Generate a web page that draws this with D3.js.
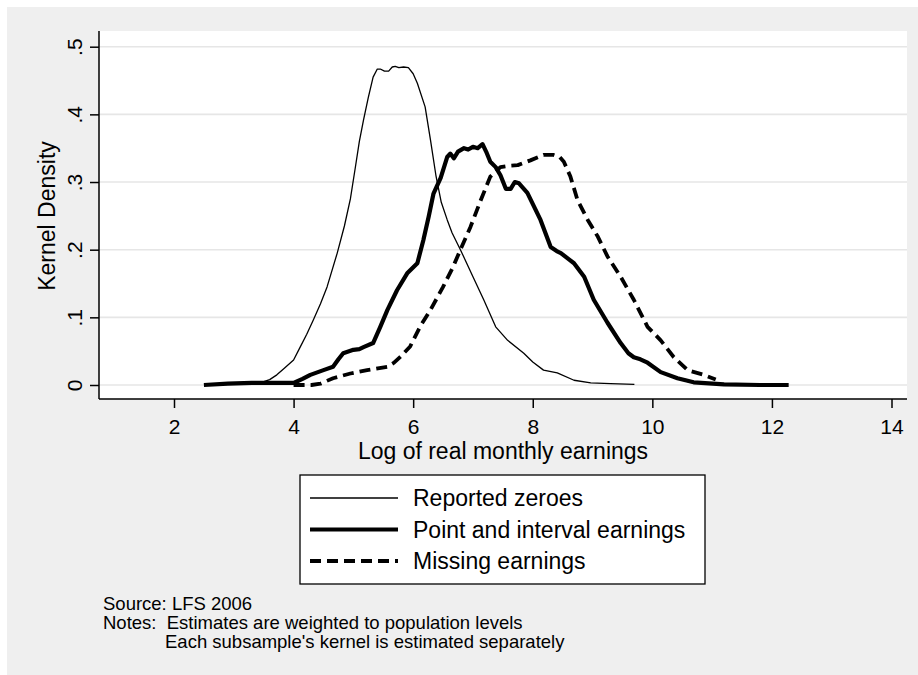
<!DOCTYPE html>
<html>
<head>
<meta charset="utf-8">
<script src="https://cdn.jsdelivr.net/npm/d3@7"></script>
<style>
  body { margin: 0; background: #fff; }
  svg { display: block; font-family: "Liberation Sans", Arial, sans-serif; }
</style>
</head>
<body>
<div id="chart"></div>
<script>
// kernel density estimates: [log earnings, density]
const reportedZeroes = [
  [2.9, 0.002], [3.2, 0.002], [3.44, 0.003], [3.6, 0.008], [3.72, 0.015], [3.85, 0.025], [4.0, 0.037],
  [4.11, 0.056], [4.22, 0.075], [4.33, 0.096], [4.45, 0.12], [4.56, 0.145], [4.73, 0.195],
  [4.85, 0.235], [4.95, 0.275], [5.03, 0.32], [5.1, 0.36], [5.17, 0.392], [5.25, 0.425], [5.33, 0.455],
  [5.4, 0.467], [5.45, 0.467], [5.52, 0.464], [5.59, 0.464], [5.65, 0.47], [5.70, 0.471],
  [5.76, 0.469], [5.84, 0.47], [5.92, 0.469], [6.0, 0.46], [6.07, 0.446], [6.2, 0.411],
  [6.29, 0.362], [6.38, 0.31], [6.47, 0.27], [6.57, 0.244], [6.65, 0.225], [6.79, 0.2],
  [7.0, 0.16], [7.18, 0.126], [7.38, 0.086], [7.58, 0.066], [7.85, 0.047], [8.0, 0.034],
  [8.18, 0.022], [8.41, 0.018], [8.69, 0.007], [8.97, 0.003], [9.3, 0.002], [9.7, 0.001]
];

const pointInterval = [
  [2.5, 0.0], [2.9, 0.002], [3.3, 0.003], [3.7, 0.003], [4.0, 0.003], [4.15, 0.009],
  [4.28, 0.015], [4.5, 0.022], [4.66, 0.027], [4.75, 0.038], [4.83, 0.047], [5.0, 0.052],
  [5.1, 0.053], [5.17, 0.056], [5.33, 0.062], [5.45, 0.086], [5.57, 0.111], [5.73, 0.14],
  [5.9, 0.165], [6.07, 0.18], [6.17, 0.214], [6.26, 0.249], [6.34, 0.283], [6.46, 0.306],
  [6.57, 0.337], [6.62, 0.342], [6.68, 0.335], [6.75, 0.345], [6.85, 0.35], [6.92, 0.348],
  [7.0, 0.352], [7.08, 0.35], [7.16, 0.356], [7.22, 0.345], [7.29, 0.33], [7.38, 0.322],
  [7.46, 0.31], [7.55, 0.29], [7.63, 0.29], [7.7, 0.3], [7.77, 0.298], [7.91, 0.284],
  [8.02, 0.264], [8.13, 0.244], [8.3, 0.204], [8.4, 0.198], [8.47, 0.195], [8.6, 0.186],
  [8.69, 0.18], [8.86, 0.16], [9.02, 0.126], [9.25, 0.092], [9.47, 0.062], [9.6, 0.047],
  [9.69, 0.041], [9.8, 0.038], [9.92, 0.033], [10.14, 0.019], [10.42, 0.01], [10.69, 0.004],
  [11.2, 0.001], [11.8, 0.0], [12.28, 0.0]
];

const missingEarnings = [
  [4.0, 0.0], [4.3, 0.0], [4.45, 0.002], [4.66, 0.01], [4.95, 0.017], [5.23, 0.022],
  [5.57, 0.027], [5.68, 0.033], [5.79, 0.042], [5.95, 0.057], [6.12, 0.087], [6.29, 0.111],
  [6.5, 0.145], [6.67, 0.175], [6.79, 0.2], [6.96, 0.234], [7.13, 0.273], [7.29, 0.308],
  [7.46, 0.322], [7.6, 0.324], [7.75, 0.325], [7.96, 0.332], [8.18, 0.34], [8.35, 0.34],
  [8.45, 0.337], [8.52, 0.33], [8.63, 0.308], [8.75, 0.273], [8.92, 0.244], [9.09, 0.219],
  [9.25, 0.19], [9.47, 0.16], [9.69, 0.126], [9.92, 0.086], [10.14, 0.066], [10.36, 0.041],
  [10.59, 0.022], [10.86, 0.015], [11.06, 0.008]
];

const xTicks = [2, 4, 6, 8, 10, 12, 14];
const yTicks = [0, 0.1, 0.2, 0.3, 0.4, 0.5];
const seriesNames = ["Reported zeroes", "Point and interval earnings", "Missing earnings"];
const noteLines = ["Source: LFS 2006", "Notes:  Estimates are weighted to population levels"];
const noteIndented = "Each subsample's kernel is estimated separately";

const width = 918, height = 675;
const frame = { left: 99, right: 907, top: 31, bottom: 399 };

const styles = [
  { width: 1.3, dash: null },
  { width: 4.2, dash: null },
  { width: 3.8, dash: "11,6" }
];
const seriesData = [reportedZeroes, pointInterval, missingEarnings];

const svg = d3.select("#chart")
  .append("svg")
  .attr("width", width)
  .attr("height", height);

svg.append("rect")
  .attr("x", 7).attr("y", 7)
  .attr("width", width - 7).attr("height", height - 7)
  .attr("fill", "#efefef");

svg.append("rect")
  .attr("x", frame.left).attr("y", frame.top)
  .attr("width", frame.right - frame.left)
  .attr("height", frame.bottom - frame.top)
  .attr("fill", "#fff");

const x = d3.scaleLinear().domain([2, 14]).range([174, 891.5]);
const y = d3.scaleLinear().domain([0, 0.5]).range([385, 46.7]);

// grid lines
svg.append("g")
  .selectAll("line")
  .data(yTicks)
  .join("line")
  .attr("x1", frame.left).attr("x2", frame.right)
  .attr("y1", d => y(d)).attr("y2", d => y(d))
  .attr("stroke", "#e6e6e6")
  .attr("stroke-width", 1.6);

// curves
const line = d3.line().x(d => x(d[0])).y(d => y(d[1]));

svg.append("g")
  .selectAll("path")
  .data(seriesData)
  .join("path")
  .attr("d", line)
  .attr("fill", "none")
  .attr("stroke", "#000")
  .attr("stroke-width", (d, i) => styles[i].width)
  .attr("stroke-dasharray", (d, i) => styles[i].dash)
  .attr("stroke-linejoin", "round");

// axes
const xAxis = d3.axisBottom(x).tickValues(xTicks).tickSize(9).tickSizeOuter(0);
const yAxis = d3.axisLeft(y).tickValues(yTicks).tickSize(9).tickSizeOuter(0)
  .tickFormat(d => d === 0 ? "0" : d3.format(".1f")(d).replace(/^0/, ""));

const gx = svg.append("g")
  .attr("transform", `translate(0,${frame.bottom})`)
  .call(xAxis);
gx.select(".domain").attr("d", `M${frame.left},0H${frame.right}`);
gx.selectAll("text")
  .attr("y", 35).attr("dy", 0)
  .attr("font-size", 21).attr("font-family", null).attr("fill", "#000");

const gy = svg.append("g")
  .attr("transform", `translate(${frame.left},0)`)
  .call(yAxis);
gy.select(".domain").attr("d", `M0,${frame.top}V${frame.bottom}`);
gy.selectAll("text")
  .attr("transform", "rotate(-90)")
  .attr("x", 0).attr("y", -17).attr("dy", 0)
  .attr("text-anchor", "middle")
  .attr("font-size", 21).attr("font-family", null).attr("fill", "#000");

svg.selectAll(".domain, .tick line")
  .attr("stroke", "#000")
  .attr("stroke-width", 1.5);

// axis titles
svg.append("text")
  .attr("x", (frame.left + frame.right) / 2)
  .attr("y", 459)
  .attr("text-anchor", "middle")
  .attr("font-size", 23)
  .text("Log of real monthly earnings");

svg.append("text")
  .attr("transform", "translate(55,216) rotate(-90)")
  .attr("text-anchor", "middle")
  .attr("font-size", 23)
  .text("Kernel Density");

// legend
const legend = svg.append("g");
legend.append("rect")
  .attr("x", 300).attr("y", 475)
  .attr("width", 405).attr("height", 109)
  .attr("fill", "#fff")
  .attr("stroke", "#000")
  .attr("stroke-width", 1.3);

const rows = legend.selectAll(".row")
  .data(seriesNames)
  .join("g")
  .attr("class", "row")
  .attr("transform", (d, i) => `translate(0,${498 + i * 31.5})`);

rows.append("line")
  .attr("x1", 310).attr("x2", 398)
  .attr("stroke", "#000")
  .attr("stroke-width", (d, i) => styles[i].width)
  .attr("stroke-dasharray", (d, i) => styles[i].dash);

rows.append("text")
  .attr("x", 413).attr("y", 8)
  .attr("font-size", 23)
  .text(d => d);

// notes
svg.append("g")
  .selectAll("text")
  .data(noteLines)
  .join("text")
  .attr("x", 103)
  .attr("y", (d, i) => 610 + i * 19)
  .attr("font-size", 18.5)
  .attr("xml:space", "preserve")
  .style("white-space", "pre")
  .text(d => d);

svg.append("text")
  .attr("x", 165).attr("y", 648)
  .attr("font-size", 18.5)
  .text(noteIndented);
</script>
</body>
</html>
